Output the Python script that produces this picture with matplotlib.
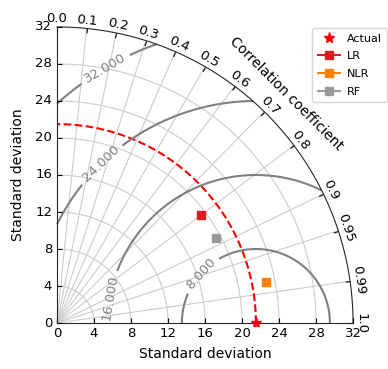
import numpy as np
import matplotlib
matplotlib.use("Agg")
import matplotlib.pyplot as plt
from matplotlib.projections import PolarAxes
import mpl_toolkits.axisartist.floating_axes as FA
import mpl_toolkits.axisartist.grid_finder as GF

# reference (observed) std and model results
ref_std = 21.5
ref_label = "Actual"
model_names = ["LR", "NLR", "RF"]
model_std = [19.5, 23.0, 19.5]
model_corr = [0.80, 0.981, 0.882]
model_colors = ["#e31a1c", "#ff7f00", "#999999"]

corr_ticks = [0.0, 0.1, 0.2, 0.3, 0.4, 0.5, 0.6, 0.7, 0.8, 0.9, 0.95, 0.99, 1.0]
std_ticks = [0, 4, 8, 12, 16, 20, 24, 28, 32]
rms_levels = [8, 16, 24, 32]
# contour label spots as (theta, r)
label_spots = [(1.384, 28.0), (1.332, 18.2), (0.443, 6.3), (0.335, 16.4)]

smax = 32

fig = plt.figure(figsize=(3.88, 3.69), dpi=100)

tr = PolarAxes.PolarTransform(apply_theta_transforms=False)
tlocs = np.arccos(corr_ticks)
gl1 = GF.FixedLocator(tlocs)
tf1 = GF.DictFormatter(dict(zip(tlocs, [str(c) for c in corr_ticks])))
gl2 = GF.FixedLocator(std_ticks)
tf2 = GF.DictFormatter({s: str(s) for s in std_ticks})

ghelper = FA.GridHelperCurveLinear(tr, extremes=(0, np.pi / 2, 0, smax),
                                   grid_locator1=gl1, tick_formatter1=tf1,
                                   grid_locator2=gl2, tick_formatter2=tf2)
ax = fig.add_axes([54 / 388, 43 / 369, 302 / 388, 302 / 369],
                  axes_class=FA.FloatingAxes, grid_helper=ghelper)

# correlation arc
ax.axis["top"].set_axis_direction("bottom")
ax.axis["top"].toggle(ticklabels=True, label=True)
ax.axis["top"].major_ticklabels.set_axis_direction("top")
ax.axis["top"].label.set_axis_direction("top")
ax.axis["top"].label.set_text("Correlation coefficient")

# x axis
ax.axis["left"].set_axis_direction("bottom")
ax.axis["left"].label.set_text("Standard deviation")

# y axis
ax.axis["right"].set_axis_direction("top")
ax.axis["right"].toggle(ticklabels=True, label=True)
ax.axis["right"].major_ticklabels.set_axis_direction("left")
ax.axis["right"].label.set_axis_direction("left")
ax.axis["right"].label.set_text("Standard deviation")

ax.axis["bottom"].set_visible(False)

for name in ["top", "left", "right"]:
    ax.axis[name].major_ticklabels.set_fontsize(9.5)
    ax.axis[name].label.set_fontsize(10)
    ax.axis[name].line.set_color("0.15")
ax.axis["left"].label.set_pad(7)
ax.axis["right"].label.set_pad(7)

ax.grid(True, color="0.8", lw=0.8)

aux = ax.get_aux_axes(tr)

star, = aux.plot([0], [ref_std], "r*", ls="", ms=8, label=ref_label)
t = np.linspace(0, np.pi / 2, 100)
aux.plot(t, np.full_like(t, ref_std), "r--", lw=1.5)

handles = [star]
for name, s, c, col in zip(model_names, model_std, model_corr, model_colors):
    h, = aux.plot(np.arccos(c), s, marker="s", ms=6, color=col, ls="-", label=name)
    handles.append(h)

rs, ts = np.meshgrid(np.linspace(0, smax, 200), np.linspace(0, np.pi / 2, 200))
rms = np.sqrt(ref_std ** 2 + rs ** 2 - 2 * ref_std * rs * np.cos(ts))
cs = aux.contour(ts, rs, rms, rms_levels, colors="0.5", linewidths=1.5)
aux.clabel(cs, inline=True, fontsize=9.5, fmt="%.3f", manual=label_spots)

fig.legend(handles, [h.get_label() for h in handles], loc="upper left",
           bbox_to_anchor=(312 / 388, 1 - 28 / 369), fontsize=8, numpoints=1,
           labelspacing=0.7, borderpad=0.5, handletextpad=0.6, borderaxespad=0)

fig.savefig("out.png", dpi=100)
